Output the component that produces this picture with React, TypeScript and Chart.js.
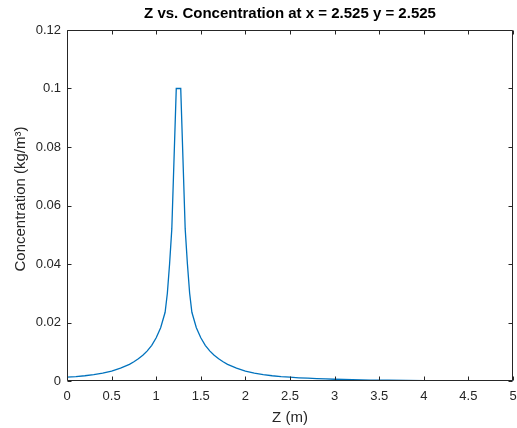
import React, { useEffect, useRef } from "react";
import { Chart, registerables } from "chart.js";

Chart.register(...registerables);

const chartTitle = "Z vs. Concentration at x = 2.525 y = 2.525";
const xAxisTitle = "Z (m)";
const yAxisTitle = "Concentration (kg/m³)";

const zValues = [
  0, 0.1, 0.2, 0.3, 0.4, 0.5, 0.6, 0.7, 0.75, 0.8, 0.85, 0.9, 0.95, 1.0, 1.05, 1.1,
  1.125, 1.15, 1.175, 1.225, 1.275, 1.325, 1.35, 1.375, 1.4, 1.45, 1.5, 1.55, 1.6,
  1.65, 1.7, 1.75, 1.8, 1.9, 2.0, 2.1, 2.2, 2.3, 2.4, 2.5, 2.6, 2.7, 2.8, 2.9, 3.0,
  3.2, 3.4, 3.6, 3.8, 4.0, 4.5, 5.0,
];
const concValues = [
  0.0013, 0.0015, 0.0018, 0.0022, 0.0027, 0.0034, 0.0044, 0.0057, 0.0066, 0.0076,
  0.0088, 0.0103, 0.0122, 0.0148, 0.0182, 0.0235, 0.03, 0.04, 0.052, 0.1, 0.1, 0.052,
  0.04, 0.03, 0.0235, 0.0182, 0.0148, 0.0122, 0.0103, 0.0088, 0.0076, 0.0066, 0.0057,
  0.0044, 0.0034, 0.0027, 0.0022, 0.0018, 0.0015, 0.0013, 0.0011, 0.00095, 0.00082,
  0.0007, 0.0006, 0.00045, 0.00033, 0.00025, 0.00019, 0.00014, 0.00007, 0.00003,
];
const xTickValues = [0, 0.5, 1, 1.5, 2, 2.5, 3, 3.5, 4, 4.5, 5];
const yTickValues = [0, 0.02, 0.04, 0.06, 0.08, 0.1, 0.12];

const W = 517;
const H = 428;
const AREA = { left: 67, right: 513, top: 30, bottom: 381 };
const AXIS_COLOR = "#262626";
const FONT = "'Liberation Sans', Arial, Helvetica, sans-serif";

const framePlugin = {
  id: "matlabFrame",
  afterDraw(chart: any) {
    const ctx = chart.ctx as CanvasRenderingContext2D;
    const { left, right, top, bottom } = chart.chartArea;
    const xs = chart.scales.x;
    const ys = chart.scales.y;
    ctx.save();
    ctx.strokeStyle = AXIS_COLOR;
    ctx.lineWidth = 1;
    const l = Math.round(left) + 0.5;
    const r = Math.round(right) - 0.5;
    const t = Math.round(top) + 0.5;
    const b = Math.round(bottom) - 0.5;
    ctx.beginPath();
    ctx.rect(l, t, r - l, b - t);
    ctx.stroke();
    const tl = 4;
    ctx.beginPath();
    xTickValues.forEach((v) => {
      const px = Math.round(xs.getPixelForValue(v)) + 0.5;
      ctx.moveTo(px, b);
      ctx.lineTo(px, b - tl);
      ctx.moveTo(px, t);
      ctx.lineTo(px, t + tl);
    });
    yTickValues.forEach((v) => {
      const py = Math.round(ys.getPixelForValue(v)) + 0.5;
      ctx.moveTo(l, py);
      ctx.lineTo(l + tl, py);
      ctx.moveTo(r, py);
      ctx.lineTo(r - tl, py);
    });
    ctx.stroke();

    ctx.fillStyle = "#000000";
    ctx.textAlign = "center";
    ctx.textBaseline = "middle";
    ctx.font = `bold 15px ${FONT}`;
    ctx.fillText(chartTitle, (left + right) / 2, 14);

    ctx.fillStyle = AXIS_COLOR;
    ctx.font = `15px ${FONT}`;
    ctx.fillText(xAxisTitle, (left + right) / 2, 418);

    ctx.save();
    ctx.translate(21, 199);
    ctx.rotate(-Math.PI / 2);
    ctx.fillText(yAxisTitle, 0, 0);
    ctx.restore();
    ctx.restore();
  },
};

export default function App() {
  const ref = useRef<HTMLCanvasElement | null>(null);
  useEffect(() => {
    if (!ref.current) return;
    const points = zValues.map((z, i) => ({ x: z, y: concValues[i] }));
    const chart = new Chart(ref.current, {
      type: "line",
      data: {
        datasets: [
          {
            data: points,
            borderColor: "#0072BD",
            borderWidth: 1.3,
            pointRadius: 0,
            tension: 0,
            fill: false,
          },
        ],
      },
      options: {
        animation: false,
        responsive: false,
        maintainAspectRatio: false,
        events: [],
        layout: { padding: { left: 0, right: W - AREA.right, top: AREA.top, bottom: 0 } },
        plugins: {
          legend: { display: false },
          title: { display: false },
          tooltip: { enabled: false },
        },
        scales: {
          x: {
            type: "linear",
            min: 0,
            max: 5,
            afterFit: (s: any) => {
              s.height = H - AREA.bottom;
              s.paddingLeft = 0;
              s.paddingRight = 0;
            },
            afterBuildTicks: (s: any) => {
              s.ticks = xTickValues.map((v) => ({ value: v }));
            },
            grid: { display: false, drawTicks: false },
            border: { display: false },
            ticks: {
              padding: 8,
              color: AXIS_COLOR,
              font: { family: FONT, size: 13 },
              maxRotation: 0,
              autoSkip: false,
              callback: (v: any) => String(Number(v)),
            },
          },
          y: {
            type: "linear",
            min: 0,
            max: 0.12,
            afterFit: (s: any) => {
              s.width = AREA.left;
              s.paddingTop = 0;
              s.paddingBottom = 0;
            },
            afterBuildTicks: (s: any) => {
              s.ticks = yTickValues.map((v) => ({ value: v }));
            },
            grid: { display: false, drawTicks: false },
            border: { display: false },
            ticks: {
              padding: 6,
              color: AXIS_COLOR,
              font: { family: FONT, size: 13 },
              autoSkip: false,
              callback: (v: any) => String(Number(Number(v).toFixed(2))),
            },
          },
        },
      },
      plugins: [framePlugin],
    });
    return () => chart.destroy();
  }, []);
  return (
    <div style={{ position: "fixed", left: 0, top: 0, width: W, height: H, background: "#fff" }}>
      <canvas ref={ref} width={W} height={H} style={{ display: "block", width: W, height: H }} />
    </div>
  );
}
